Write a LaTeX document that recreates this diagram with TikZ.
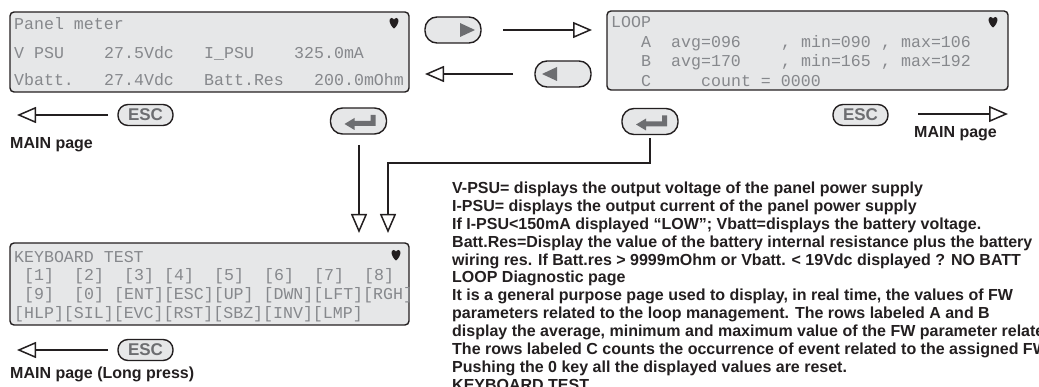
\documentclass[tikz,border=0pt]{standalone}
\usepackage{fontspec}
\setmainfont{Liberation Sans}
\newfontfamily\lcdfont{Liberation Mono}
\usetikzlibrary{arrows.meta}
\definecolor{lcdbg}{HTML}{E6E7E8}
\definecolor{lcdfg}{HTML}{86888C}
\definecolor{ink}{HTML}{231F20}
\definecolor{keygray}{HTML}{6D6E71}
\newcommand{\lcdt}[5]{\node[lcdtxt] (#1) at ({#2+#3*10.0},#4) {#5};}
\newcommand{\heartat}[2]{\fill[ink] (#1,#2+5.5) .. controls (#1-5.5,#2+1) and (#1-5.5,#2-5) .. (#1-2.5,#2-5) .. controls (#1-1.2,#2-5) and (#1,#2-4) .. (#1,#2-3.2) .. controls (#1,#2-4) and (#1+1.2,#2-5) .. (#1+2.5,#2-5) .. controls (#1+5.5,#2-5) and (#1+5.5,#2+1) .. (#1,#2+5.5) -- cycle;}
\newcommand{\entersym}[1]{\fill[keygray] ([xshift=-14pt,yshift=-3pt]#1.center) -- ([xshift=-4pt,yshift=3pt]#1.center) -- ([xshift=-4pt,yshift=0pt]#1.center) -- ([xshift=12pt,yshift=0pt]#1.center) -- ([xshift=12pt,yshift=6pt]#1.center) -- ([xshift=17pt,yshift=6pt]#1.center) -- ([xshift=17pt,yshift=-5pt]#1.center) -- ([xshift=-4pt,yshift=-5pt]#1.center) -- ([xshift=-4pt,yshift=-9pt]#1.center) -- cycle;}
\begin{document}
\begin{tikzpicture}[x=1pt,y=-1pt,
  lcdbox/.style={draw=ink, fill=lcdbg, line width=1.4pt, rounded corners=4pt},
  lcdtxt/.style={anchor=base west, inner sep=0pt, text=lcdfg, font=\lcdfont\fontsize{16.6}{17}\selectfont},
  btn/.style={draw=ink, fill=lcdbg, line width=1.4pt, inner sep=0pt, minimum width=56pt, minimum height=26pt, rounded corners=12pt},
  escbtn/.style={btn, minimum width=55pt, minimum height=21pt, rounded corners=10pt, text=keygray, font=\bfseries\fontsize{17}{17}\selectfont},
  flow/.style={draw=ink, line width=1.5pt, -{Triangle[open, length=19pt, width=16pt, line width=1.5pt]}},
  lbl/.style={anchor=base west, inner sep=0pt, font=\bfseries\fontsize{16}{16}\selectfont, text=ink},
  desc/.style={anchor=base west, inner sep=0pt, font=\bfseries\fontsize{16}{16}\selectfont, text=ink}]
\useasboundingbox (0,0) rectangle (1039,387);
\clip (0,0) rectangle (1039,387);

% ---------- Panel meter ----------
\draw[lcdbox] (10,12) rectangle (409,92);
\lcdt{pm0}{14}{0}{29.5}{Panel meter}
\lcdt{pm1}{14}{0}{58.5}{V PSU}
\lcdt{pm2}{14}{9}{58.5}{27.5Vdc}
\lcdt{pm3}{14}{19}{58.5}{I\_PSU}
\lcdt{pm4}{14}{28}{58.5}{325.0mA}
\lcdt{pm5}{14}{0}{85.5}{Vbatt.}
\lcdt{pm6}{14}{9}{85.5}{27.4Vdc}
\lcdt{pm7}{14}{19}{85.5}{Batt.Res}
\lcdt{pm8}{14}{30}{85.5}{200.0mOhm}
\heartat{394}{23}

% ---------- LOOP ----------
\draw[lcdbox] (607,11) rectangle (1008,90);
\lcdt{lp0}{611}{0}{27.5}{LOOP}
\lcdt{lpa}{611}{3}{47.5}{A}
\lcdt{lpa1}{611}{6}{47.5}{avg=096}
\lcdt{lpa2}{611}{17}{47.5}{, min=090}
\lcdt{lpa3}{611}{27}{47.5}{, max=106}
\lcdt{lpb}{611}{3}{66.5}{B}
\lcdt{lpb1}{611}{6}{66.5}{avg=170}
\lcdt{lpb2}{611}{17}{66.5}{, min=165}
\lcdt{lpb3}{611}{27}{66.5}{, max=192}
\lcdt{lpc}{611}{3}{86.5}{C}
\lcdt{lpc1}{611}{9}{86.5}{count = 0000}
\heartat{993}{22}

% ---------- Keyboard test ----------
\draw[lcdbox] (10,243) rectangle (409,325);
\lcdt{kb0}{14}{0}{262.5}{KEYBOARD TEST}
\lcdt{kb1a}{14}{1}{280.5}{[1]}
\lcdt{kb1b}{14}{6}{280.5}{[2]}
\lcdt{kb1c}{14}{11}{280.5}{[3]}
\lcdt{kb1d}{14}{15}{280.5}{[4]}
\lcdt{kb1e}{14}{20}{280.5}{[5]}
\lcdt{kb1f}{14}{25}{280.5}{[6]}
\lcdt{kb1g}{14}{30}{280.5}{[7]}
\lcdt{kb1h}{14}{35}{280.5}{[8]}
\lcdt{kb2a}{14}{1}{299.5}{[9]}
\lcdt{kb2b}{14}{6}{299.5}{[0]}
\lcdt{kb2c}{14}{10}{299.5}{[ENT][ESC][UP] [DWN][LFT][RGH]}
\lcdt{kb3}{14}{0}{318.5}{[HLP][SIL][EVC][RST][SBZ][INV][LMP]}
\heartat{396}{255}

% ---------- buttons ----------
\node[btn] (right) at (453,30) {};
\fill[keygray] (460,23) -- (475,30) -- (460,37) -- cycle;
\node[btn] (left) at (563,74) {};
\fill[keygray] (557,67) -- (542,74) -- (557,81) -- cycle;
\node[btn] (ent1) at (358.5,121) {};
\entersym{ent1}
\node[btn] (ent2) at (650,121.5) {};
\entersym{ent2}
\node[escbtn] (esc1) at (145.5,115) {ESC};
\node[escbtn] (esc2) at (860.5,115) {ESC};
\node[escbtn] (esc3) at (145.5,350) {ESC};

% ---------- connectors ----------
\coordinate (r0) at (503,30);
\coordinate (r1) at (592,30);
\draw[flow] (r0) -- (r1);
\coordinate (l0) at (513,74);
\coordinate (l1) at (425,74);
\draw[flow] (l0) -- (l1);
\coordinate (e1) at (108,115);
\coordinate (m1) at (17,115);
\draw[flow] (e1) -- (m1);
\coordinate (e3) at (108,350);
\coordinate (m3) at (17,350);
\draw[flow] (e3) -- (m3);
\coordinate (e2) at (918,114);
\coordinate (m2) at (1008,114);
\draw[flow] (e2) -- (m2);
\coordinate (d0) at (359,145);
\coordinate (d1) at (359,233);
\draw[flow] (d0) -- (d1);
\coordinate (k0) at (650,138);
\coordinate (k1) at (650,163);
\coordinate (k2) at (388,163);
\coordinate (k3) at (388,233);
\draw[flow] (k0) -- (k1) -- (k2) -- (k3);

% ---------- labels ----------
\node[lbl] (mp1) at (10,149) {MAIN page};
\node[lbl] (mp2) at (914,138) {MAIN page};
\node[lbl] (mp3) at (10,378) {MAIN page (Long press)};

% ---------- description ----------
\foreach \t [count=\i from 0] in {
 {V-PSU= displays the output voltage of the panel power supply},
 {I-PSU= displays the output current of the panel power supply},
 {If I-PSU<150mA displayed “LOW”; Vbatt=displays the battery voltage.},
 {Batt.Res=Display the value of the battery internal resistance plus the battery},
 {wiring res. If Batt.res > 9999mOhm or Vbatt. < 19Vdc displayed ? NO BATT},
 {LOOP Diagnostic page},
 {It is a general purpose page used to display, in real time, the values of FW},
 {parameters related to the loop management. The rows labeled A and B},
 {display the average, minimum and maximum value of the FW parameter related},
 {The rows labeled C counts the occurrence of event related to the assigned FW},
 {Pushing the 0 key all the displayed values are reset.},
 {KEYBOARD TEST}}
 \node[desc] (d\i) at (452,193.5+17.9*\i) {\t};
\end{tikzpicture}
\end{document}
